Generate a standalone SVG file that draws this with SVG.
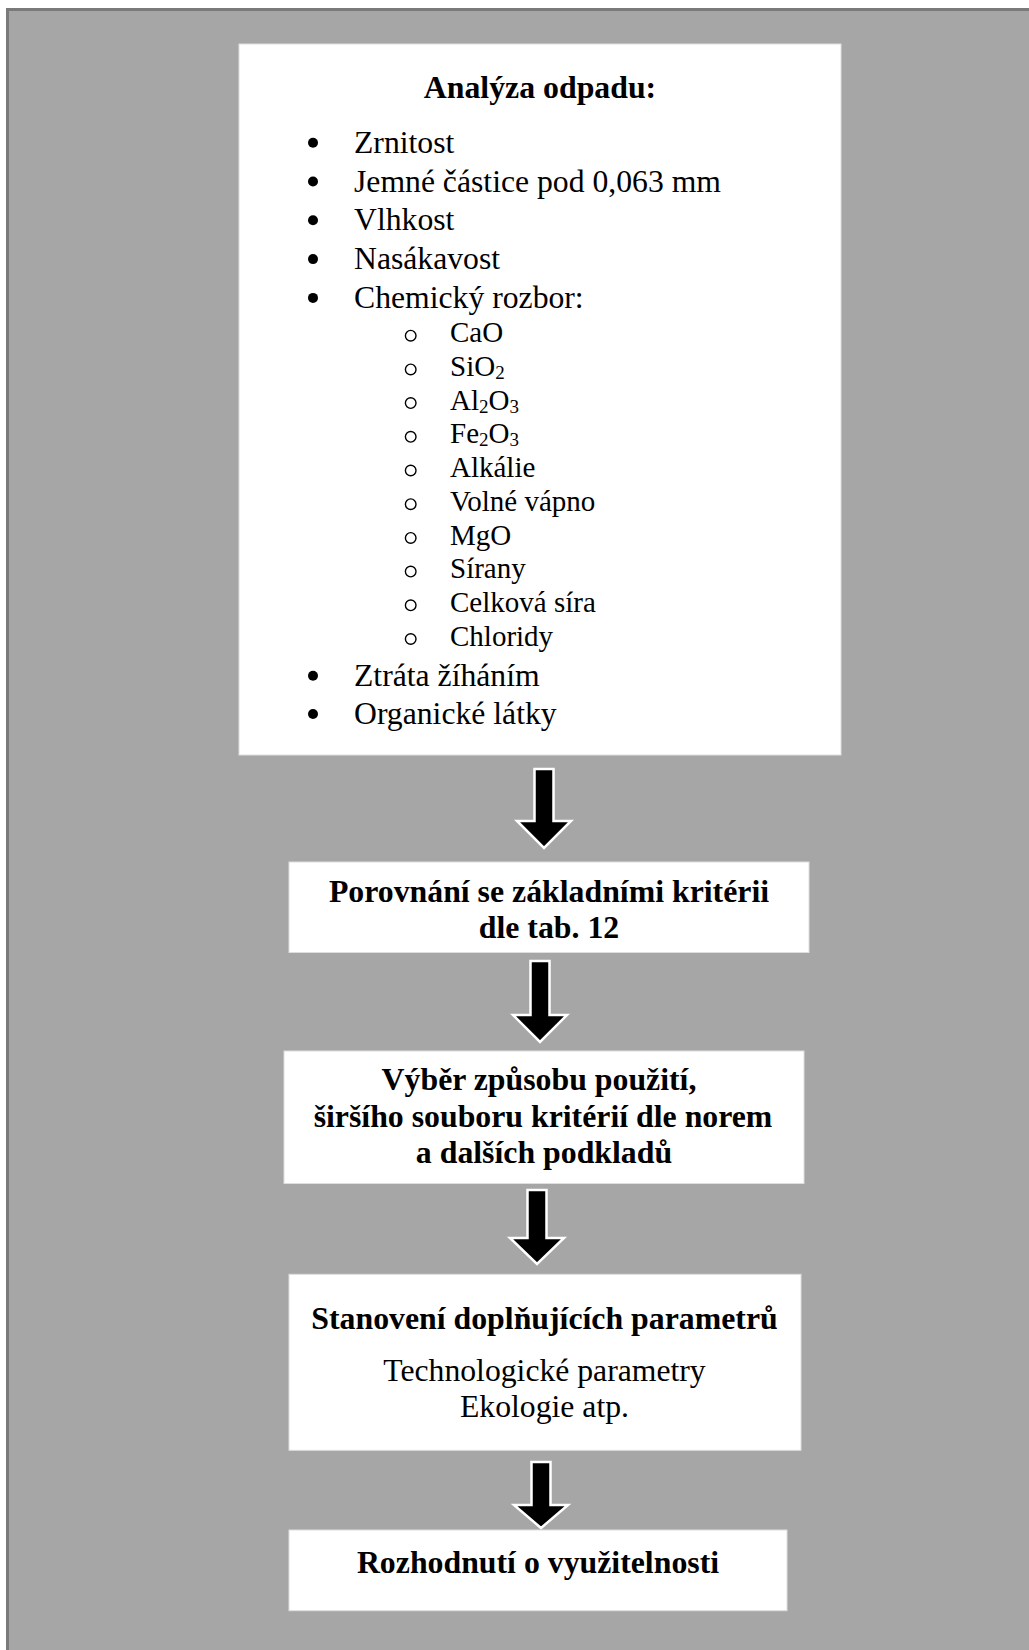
<svg xmlns="http://www.w3.org/2000/svg" width="1029" height="1650" viewBox="0 0 1029 1650">
<style>
  .page { fill: #a6a6a6; }
  .box { fill: #ffffff; stroke: #dedede; stroke-width: 1; }
  .b { font-family: "Liberation Serif", "Times New Roman", serif; font-weight: bold; font-size: 31.8px; fill: #000; }
  .r { font-family: "Liberation Serif", "Times New Roman", serif; font-size: 31.7px; fill: #000; }
  .s { font-family: "Liberation Serif", "Times New Roman", serif; font-size: 29px; fill: #000; }
  .sub { font-size: 19px; }
  .c { text-anchor: middle; }
  .dot { fill: #000; }
  .ring { fill: none; stroke: #000; stroke-width: 1.4; }
  .arrow { fill: #000; stroke: #ffffff; stroke-width: 2.5; stroke-linejoin: miter; }
</style>
<rect x="0" y="0" width="1029" height="1650" fill="#ffffff"/>
<rect class="page" x="6" y="8" width="1023" height="1642"/>
<path d="M7.5 1650 V9.5 H1029" fill="none" stroke="#7a7a7a" stroke-width="3"/>

<g id="connectors">
  <path class="arrow" d="M534.5 769 H553.5 V821 H571 L544 848 L517 821 H534.5 Z"/>
  <path class="arrow" d="M530.5 961 H549.5 V1015 H567 L540 1042 L513 1015 H530.5 Z"/>
  <path class="arrow" d="M527.5 1190 H546.5 V1238 H564 L537 1264 L510 1238 H527.5 Z"/>
  <path class="arrow" d="M531.5 1462 H550.5 V1505 H568 L541 1528 L514 1505 H531.5 Z"/>
</g>

<g id="node-analyza">
  <rect class="box" x="239" y="44" width="602" height="711"/>
  <text class="b c" x="540" y="98.3">Analýza odpadu:</text>
  <circle class="dot" cx="313" cy="142.7" r="5"/>
  <text class="r" x="354" y="152.7">Zrnitost</text>
  <circle class="dot" cx="313" cy="181.5" r="5"/>
  <text class="r" x="354" y="191.5">Jemné částice pod 0,063 mm</text>
  <circle class="dot" cx="313" cy="220.3" r="5"/>
  <text class="r" x="354" y="230.3">Vlhkost</text>
  <circle class="dot" cx="313" cy="259.1" r="5"/>
  <text class="r" x="354" y="269.1">Nasákavost</text>
  <circle class="dot" cx="313" cy="297.9" r="5"/>
  <text class="r" x="354" y="307.9">Chemický rozbor:</text>

  <circle class="ring" cx="410.7" cy="335.7" r="5.3"/>
  <text class="s" x="450" y="342.3">CaO</text>
  <circle class="ring" cx="410.7" cy="369.4" r="5.3"/>
  <text class="s" x="450" y="376">SiO<tspan class="sub" dy="3">2</tspan></text>
  <circle class="ring" cx="410.7" cy="403.1" r="5.3"/>
  <text class="s" x="450" y="409.7">Al<tspan class="sub" dy="3">2</tspan><tspan dy="-3">O</tspan><tspan class="sub" dy="3">3</tspan></text>
  <circle class="ring" cx="410.7" cy="436.8" r="5.3"/>
  <text class="s" x="450" y="443.4">Fe<tspan class="sub" dy="3">2</tspan><tspan dy="-3">O</tspan><tspan class="sub" dy="3">3</tspan></text>
  <circle class="ring" cx="410.7" cy="470.5" r="5.3"/>
  <text class="s" x="450" y="477.1">Alkálie</text>
  <circle class="ring" cx="410.7" cy="504.2" r="5.3"/>
  <text class="s" x="450" y="510.8">Volné vápno</text>
  <circle class="ring" cx="410.7" cy="537.9" r="5.3"/>
  <text class="s" x="450" y="544.5">MgO</text>
  <circle class="ring" cx="410.7" cy="571.6" r="5.3"/>
  <text class="s" x="450" y="578.2">Sírany</text>
  <circle class="ring" cx="410.7" cy="605.3" r="5.3"/>
  <text class="s" x="450" y="611.9">Celková síra</text>
  <circle class="ring" cx="410.7" cy="639" r="5.3"/>
  <text class="s" x="450" y="645.6">Chloridy</text>

  <circle class="dot" cx="313" cy="675.7" r="5"/>
  <text class="r" x="354" y="685.7">Ztráta žíháním</text>
  <circle class="dot" cx="313" cy="714" r="5"/>
  <text class="r" x="354" y="724">Organické látky</text>
</g>

<g id="node-porovnani">
  <rect class="box" x="289" y="862" width="520" height="90.5"/>
  <text class="b c" x="549" y="901.7">Porovnání se základními kritérii</text>
  <text class="b c" x="549" y="937.5">dle tab. 12</text>
</g>

<g id="node-vyber">
  <rect class="box" x="284" y="1051" width="520" height="132.5"/>
  <text class="b c" x="539" y="1090">Výběr způsobu použití,</text>
  <text class="b c" x="543" y="1126.7">širšího souboru kritérií dle norem</text>
  <text class="b c" x="544" y="1163.4">a dalších podkladů</text>
</g>

<g id="node-stanoveni">
  <rect class="box" x="289" y="1274.3" width="512" height="176"/>
  <text class="b c" x="544.5" y="1329">Stanovení doplňujících parametrů</text>
  <text class="r c" x="544.5" y="1380.7">Technologické parametry</text>
  <text class="r c" x="544.5" y="1416.5">Ekologie atp.</text>
</g>

<g id="node-rozhodnuti">
  <rect class="box" x="289" y="1530" width="498" height="80.7"/>
  <text class="b c" x="538" y="1573.3">Rozhodnutí o využitelnosti</text>
</g>
</svg>
